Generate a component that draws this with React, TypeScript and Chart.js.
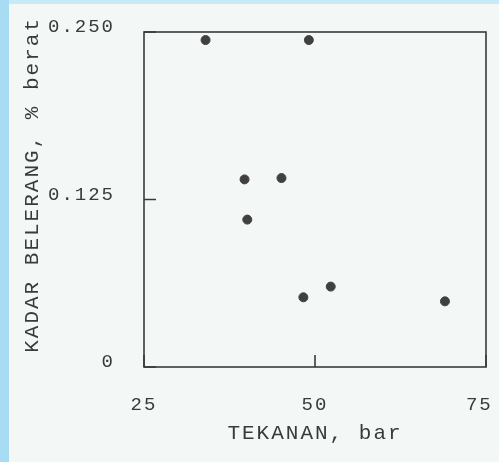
import React, { useEffect, useRef } from "react";
import { Chart, registerables } from "chart.js";

Chart.register(...registerables);

const pressureBar = [34.0, 49.1, 39.7, 45.1, 40.1, 48.3, 52.3, 69.0];
const sulfurPct = [0.244, 0.244, 0.14, 0.141, 0.11, 0.052, 0.06, 0.049];
const xTickValues = [25, 50, 75];
const xTickLabels = ["25", "50", "75 "];
const yTickValues = [0, 0.125, 0.25];
const yTickLabels = ["0", "0.125", "0.250"];
const xTitle = "TEKANAN, bar";
const yTitle = "  KADAR BELERANG, % berat";

const INK = "#3a3a3a";
const FONT = "'Liberation Mono', 'DejaVu Sans Mono', monospace";

const spacingPlugin = {
  id: "spacing",
  beforeLayout(chart: any) {
    chart.ctx.letterSpacing = "2px";
  },
  beforeDraw(chart: any) {
    chart.ctx.letterSpacing = "2px";
  },
};

const framePlugin = {
  id: "frame",
  beforeDatasetsDraw(chart: any) {
    const { ctx, chartArea } = chart;
    const xs = chart.scales.x;
    const ys = chart.scales.y;
    ctx.save();
    ctx.strokeStyle = INK;
    ctx.lineWidth = 1.6;
    ctx.strokeRect(
      chartArea.left,
      chartArea.top,
      chartArea.right - chartArea.left,
      chartArea.bottom - chartArea.top
    );
    ctx.beginPath();
    xTickValues.forEach((v) => {
      const px = xs.getPixelForValue(v);
      ctx.moveTo(px, chartArea.bottom);
      ctx.lineTo(px, chartArea.bottom - 12);
    });
    yTickValues.forEach((v) => {
      const py = ys.getPixelForValue(v);
      ctx.moveTo(chartArea.left, py);
      ctx.lineTo(chartArea.left + 12, py);
    });
    ctx.stroke();
    ctx.restore();
  },
};

export default function App() {
  const ref = useRef<HTMLCanvasElement | null>(null);

  useEffect(() => {
    if (!ref.current) return;
    const chart = new Chart(ref.current, {
      type: "scatter",
      data: {
        datasets: [
          {
            data: pressureBar.map((x, i) => ({ x, y: sulfurPct[i] })),
            backgroundColor: "#404040",
            borderColor: "#404040",
            pointRadius: 4.5,
            pointHoverRadius: 4.5,
          },
        ],
      },
      options: {
        responsive: false,
        animation: false,
        devicePixelRatio: 1,
        layout: { padding: { left: 0, top: 32, right: 13, bottom: 0 } },
        plugins: {
          legend: { display: false },
          tooltip: { enabled: false },
        },
        scales: {
          x: {
            type: "linear",
            min: 25,
            max: 75,
            border: { display: false },
            grid: { display: false, drawTicks: false },
            afterBuildTicks: (s: any) => {
              s.ticks = xTickValues.map((v) => ({ value: v }));
            },
            afterFit: (s: any) => {
              s.height = 95;
              s.paddingLeft = 0;
              s.paddingRight = 0;
            },
            ticks: {
              padding: 27,
              color: INK,
              font: { family: FONT, size: 19 },
              maxRotation: 0,
              callback: (v: any) => {
                const i = xTickValues.indexOf(Number(v));
                return i >= 0 ? xTickLabels[i] : "";
              },
            },
            title: {
              display: true,
              text: xTitle,
              color: INK,
              font: { family: FONT, size: 21 },
              padding: { top: 0, bottom: 16 },
            },
          },
          y: {
            type: "linear",
            min: 0,
            max: 0.25,
            border: { display: false },
            grid: { display: false, drawTicks: false },
            afterBuildTicks: (s: any) => {
              s.ticks = yTickValues.map((v) => ({ value: v }));
            },
            afterFit: (s: any) => {
              s.width = 144;
              s.paddingTop = 0;
              s.paddingBottom = 0;
            },
            ticks: {
              padding: 29,
              labelOffset: -5,
              color: INK,
              font: { family: FONT, size: 19 },
              callback: (v: any) => {
                const i = yTickValues.indexOf(Number(v));
                return i >= 0 ? yTickLabels[i] : "";
              },
            },
            title: {
              display: true,
              text: yTitle,
              color: INK,
              font: { family: FONT, size: 21 },
              padding: { top: 20, bottom: 0 },
            },
          },
        },
      },
      plugins: [spacingPlugin, framePlugin],
    });
    return () => chart.destroy();
  }, []);

  return (
    <div
      style={{
        position: "absolute",
        left: 0,
        top: 0,
        width: 499,
        height: 462,
        background:
          "linear-gradient(to right, #a8dbf4 0px, #a8dbf4 9px, transparent 9px), linear-gradient(to bottom, #c8e9f8 0px, #c8e9f8 4px, #f3f8f7 4px)",
      }}
    >
      <canvas ref={ref} width={499} height={462} style={{ display: "block" }} />
    </div>
  );
}
